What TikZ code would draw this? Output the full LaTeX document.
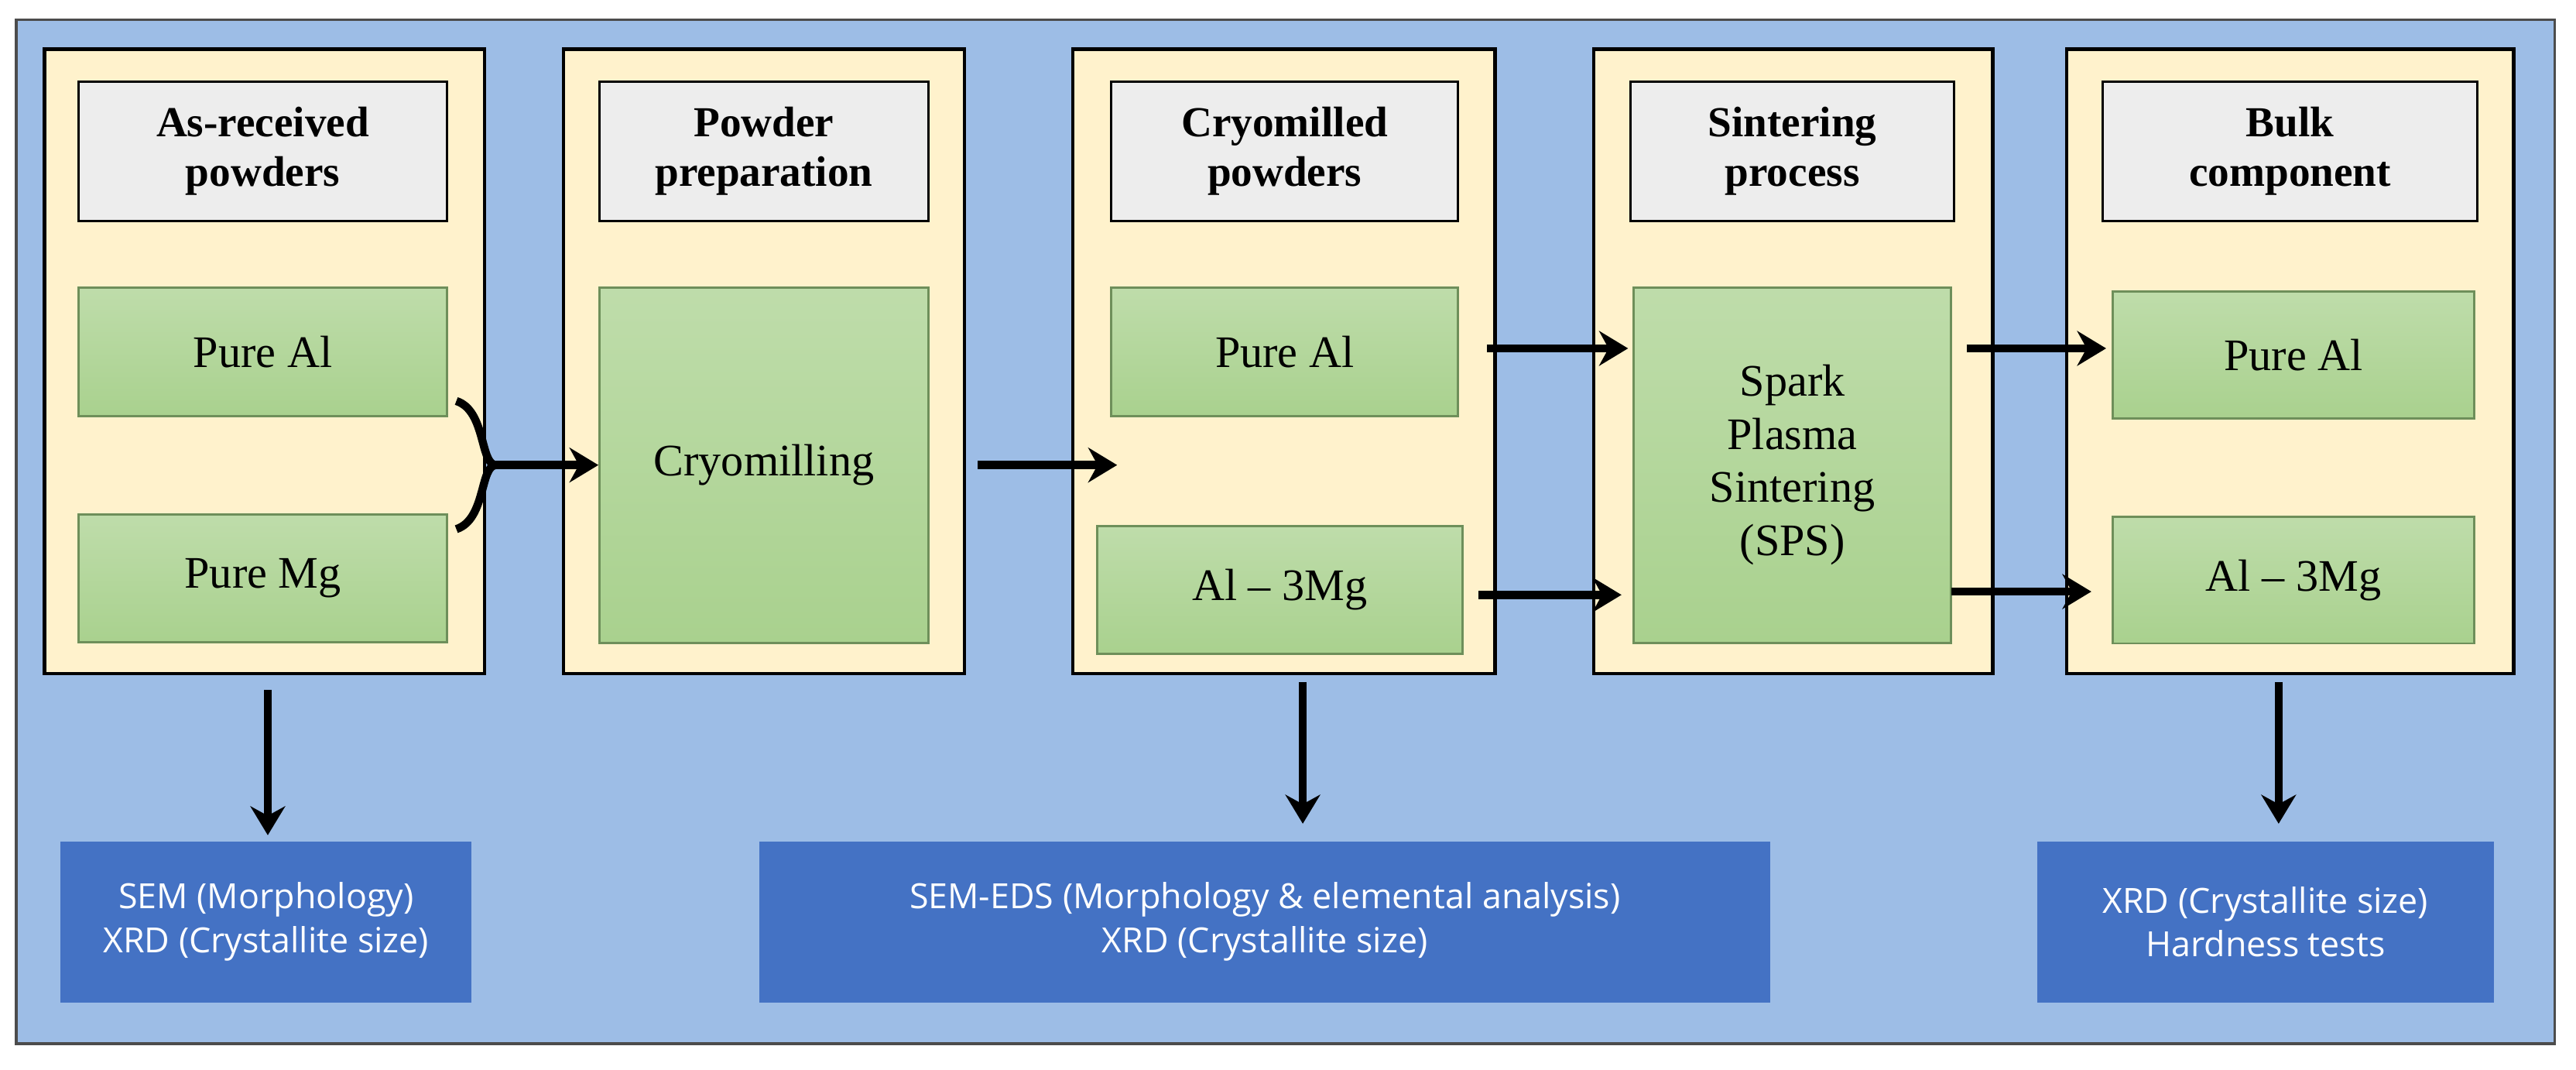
\documentclass[tikz,border=0pt]{standalone}
\usepackage{fontspec}
\setmainfont{Liberation Serif}
\newfontfamily\blueFont{Open Sans}
\usetikzlibrary{arrows.meta}
\definecolor{bgBlue}{HTML}{9DBDE6}
\definecolor{creamFill}{HTML}{FFF2CC}
\definecolor{headGrey}{HTML}{EDEDED}
\definecolor{greenFill}{HTML}{A9D18E}
\definecolor{greenEdge}{HTML}{6E8F5A}
\definecolor{resBlue}{HTML}{4472C4}
\begin{document}
\begin{tikzpicture}[x=0.01cm, y=-0.01cm,
    column/.style={draw=black, fill=creamFill, line width=0.6pt},
    header/.style={draw=black, fill=headGrey, line width=0.4pt, align=center, font=\fontsize{7.4pt}{8.6pt}\selectfont\bfseries, inner sep=0pt},
    stage/.style={draw=greenEdge, top color=greenFill!75!white, bottom color=greenFill, line width=0.4pt, align=center, font=\fontsize{7.8pt}{9.2pt}\selectfont, inner sep=0pt},
    result/.style={fill=resBlue, text=white, align=center, font=\blueFont\fontsize{6pt}{7.6pt}\selectfont, inner sep=0pt},
    flow/.style={-{Stealth[length=5pt, width=6pt]}, line width=1.4pt, black}
]
\useasboundingbox (0,0) rectangle (1568,651);
\draw[fill=bgBlue, draw=black!70, line width=0.5pt] (10,12) rectangle (1555,635);

% columns
\draw[column] (27,30) rectangle (295,410);
\draw[column] (343,30) rectangle (587,410);
\draw[column] (653,30) rectangle (910,410);
\draw[column] (970,30) rectangle (1213,410);
\draw[column] (1258,30) rectangle (1530,410);

% headers
\node[header, minimum width=2.24cm, minimum height=0.85cm] (h1) at (160,92) {As-received\\powders};
\node[header, minimum width=2.00cm, minimum height=0.85cm] (h2) at (465,92) {Powder\\preparation};
\node[header, minimum width=2.11cm, minimum height=0.85cm] (h3) at (782,92) {Cryomilled\\powders};
\node[header, minimum width=1.97cm, minimum height=0.85cm] (h4) at (1091,92) {Sintering\\process};
\node[header, minimum width=2.28cm, minimum height=0.85cm] (h5) at (1394,92) {Bulk\\component};

% process stages
\node[stage, minimum width=2.24cm, minimum height=0.78cm] (al1) at (160,214) {Pure Al};
\node[stage, minimum width=2.24cm, minimum height=0.78cm] (mg1) at (160,352) {Pure Mg};
\node[stage, minimum width=2.00cm, minimum height=2.16cm] (cryo) at (465,283) {Cryomilling};
\node[stage, minimum width=2.11cm, minimum height=0.78cm] (al3) at (782,214) {Pure Al};
\node[stage, minimum width=2.22cm, minimum height=0.78cm] (mix3) at (779,359) {Al -- 3Mg};
\node[stage, minimum width=1.93cm, minimum height=2.16cm] (sps) at (1091,283) {Spark\\Plasma\\Sintering\\(SPS)};
\node[stage, minimum width=2.20cm, minimum height=0.77cm] (al5) at (1396,216) {Pure Al};
\node[stage, minimum width=2.20cm, minimum height=0.77cm] (mix5) at (1396,353) {Al -- 3Mg};

% results
\node[result, minimum width=2.50cm, minimum height=0.98cm] (r1) at (162,561) {SEM (Morphology)\\XRD (Crystallite size)};
\node[result, minimum width=6.15cm, minimum height=0.98cm] (r3) at (770,561) {SEM-EDS (Morphology \& elemental analysis)\\XRD (Crystallite size)};
\node[result, minimum width=2.78cm, minimum height=0.98cm] (r5) at (1379,561) {XRD (Crystallite size)\\Hardness tests};

% merging arrow
\coordinate (fork) at (302,283);
\draw[line width=1.4pt] ([xshift=0.05cm, yshift=-0.3cm]al1.east) .. controls (296,250) and (292,283) .. (fork);
\draw[line width=1.4pt] ([xshift=0.05cm, yshift=0.3cm]mg1.east) .. controls (296,316) and (292,283) .. (fork);
\draw[flow] (fork) -- (cryo.west);

% flow arrows
\coordinate (c0) at (595,283);
\coordinate (c1) at (680,283);
\draw[flow] (c0) -- (c1);
\coordinate (a0) at (905,212);
\coordinate (a1) at (991,212);
\coordinate (b0) at (900,362);
\coordinate (b1) at (987,362);
\coordinate (e0) at (1197,212);
\coordinate (e1) at (1282,212);
\coordinate (f0) at (1188,360);
\coordinate (f1) at (1273,360);
\draw[flow] (a0) -- (a1);
\draw[flow] (b0) -- (b1);
\draw[flow] (e0) -- (e1);
\draw[flow] (f0) -- (f1);

% down arrows
\coordinate (d1) at (163,420);
\coordinate (d3) at (793,415);
\coordinate (d5) at (1387,415);
\draw[flow] (d1) -- ([yshift=0.03cm]d1 |- r1.north);
\draw[flow] (d3) -- ([yshift=0.1cm]d3 |- r3.north);
\draw[flow] (d5) -- ([yshift=0.1cm]d5 |- r5.north);
\end{tikzpicture}
\end{document}
